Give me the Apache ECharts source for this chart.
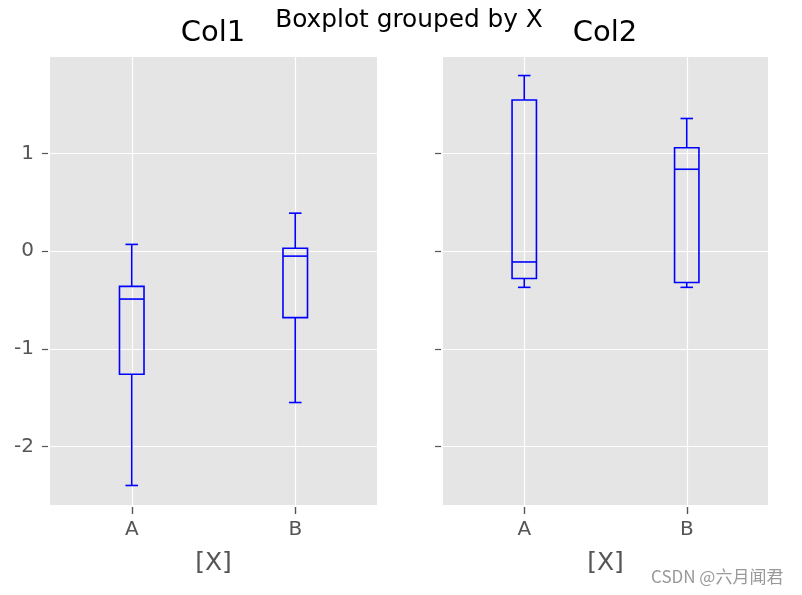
<!DOCTYPE html>
<html>
<head>
<meta charset="utf-8">
<script src="https://cdn.jsdelivr.net/npm/echarts@6/dist/echarts.min.js"></script>
<style>
html,body{margin:0;padding:0;background:#fff;}
#chart{width:802px;height:595px;}
</style>
</head>
<body>
<div id="chart"></div>
<script>
// ---- data ----
const categories = ['A', 'B'];
const panelTitles = ['Col1', 'Col2'];
// [min, Q1, median, Q3, max]
const col1A = [-2.40, -1.26, -0.49, -0.36, 0.07];
const col1B = [-1.55, -0.68, -0.05, 0.03, 0.39];
const col2A = [-0.37, -0.28, -0.11, 1.55, 1.80];
const col2B = [-0.37, -0.32, 0.84, 1.06, 1.36];
const yTicks = [-2, -1, 0, 1];
const yMin = -2.6, yMax = 1.99;
const suptitle = 'Boxplot grouped by X';
const xName = '[X]';
const watermark = 'CSDN @六月闻君';

const FONT = 'DejaVu Sans';
const BLUE = '#0000FF';

function toRows(boxes) {
  return boxes.map((b, i) => [i].concat(b));
}

function renderBox(params, api) {
  const cat = api.value(0);
  const p = (v) => api.coord([cat, v]);
  const cx = p(api.value(3))[0];
  const yLo = p(api.value(1))[1];
  const yQ1 = p(api.value(2))[1];
  const yMed = p(api.value(3))[1];
  const yQ3 = p(api.value(4))[1];
  const yHi = p(api.value(5))[1];
  const band = api.size([1, 0])[0];
  const bw = band * 0.15;
  const cw = band * 0.077;
  const st = { stroke: BLUE, lineWidth: 1.6, fill: null };
  const line = (x1, y1, x2, y2) => ({ type: 'line', shape: { x1, y1, x2, y2 }, style: st });
  return {
    type: 'group',
    children: [
      { type: 'rect', shape: { x: cx - bw / 2, y: yQ3, width: bw, height: yQ1 - yQ3 }, style: st },
      line(cx - bw / 2, yMed, cx + bw / 2, yMed),
      line(cx, yQ1, cx, yLo),
      line(cx, yQ3, cx, yHi),
      line(cx - cw / 2, yLo, cx + cw / 2, yLo),
      line(cx - cw / 2, yHi, cx + cw / 2, yHi)
    ]
  };
}

const grids = [
  { left: 50, top: 57, width: 327, height: 448 },
  { left: 443, top: 57, width: 325, height: 448 }
];

function makeX(i) {
  return {
    type: 'category', gridIndex: i, data: categories, boundaryGap: true, offset: 2, position: 'bottom',
    axisLine: { show: false, onZero: false },
    axisTick: { show: true, inside: false, interval: 0, alignWithLabel: true, length: 7,
      lineStyle: { color: '#555', width: 1.4 } },
    axisLabel: { color: '#555', fontFamily: FONT, fontSize: 20, margin: 13 },
    splitLine: { show: true, interval: 0, alignWithLabel: true, lineStyle: { color: '#fff', width: 1.2 } },
    name: xName, nameLocation: 'middle', nameGap: 44,
    nameTextStyle: { color: '#555', fontFamily: FONT, fontSize: 25 }
  };
}
function makeY(i, showLabels) {
  return {
    type: 'value', gridIndex: i, min: yMin, max: yMax, offset: 2,
    axisLine: { show: false, onZero: false },
    axisTick: { show: true, length: 6, customValues: yTicks, lineStyle: { color: '#555', width: 1.2 } },
    axisLabel: { show: showLabels, customValues: yTicks, color: '#555', fontFamily: FONT, fontSize: 20, margin: 14 },
    splitLine: { show: true, lineStyle: { color: '#fff', width: 1.2 } }
  };
}

const chart = echarts.init(document.getElementById('chart'), null, { renderer: 'canvas' });
chart.setOption({
  animation: false,
  backgroundColor: '#fff',
  title: [
    { text: suptitle, left: 409, top: 8, textAlign: 'center', padding: 0,
      textStyle: { fontFamily: FONT, fontSize: 24.8, fontWeight: 'normal', color: '#000' } },
    { text: panelTitles[0], left: 213, top: 19, textAlign: 'center', padding: 0,
      textStyle: { fontFamily: FONT, fontSize: 29, fontWeight: 'normal', color: '#000' } },
    { text: panelTitles[1], left: 605, top: 19, textAlign: 'center', padding: 0,
      textStyle: { fontFamily: FONT, fontSize: 29, fontWeight: 'normal', color: '#000' } }
  ],
  grid: grids.map(g => Object.assign({ show: true, backgroundColor: '#E5E5E5', borderWidth: 0, containLabel: false }, g)),
  xAxis: [makeX(0), makeX(1)],
  yAxis: [makeY(0, true), makeY(1, false)],
  series: [
    { type: 'custom', xAxisIndex: 0, yAxisIndex: 0, renderItem: renderBox, clip: false, z: 10,
      encode: { x: 0, y: [1, 2, 3, 4, 5] }, data: toRows([col1A, col1B]) },
    { type: 'custom', xAxisIndex: 1, yAxisIndex: 1, renderItem: renderBox, clip: false, z: 10,
      encode: { x: 0, y: [1, 2, 3, 4, 5] }, data: toRows([col2A, col2B]) }
  ],
  graphic: [
    { type: 'text', left: 651, top: 568,
      style: { text: watermark, fontFamily: 'Noto Sans CJK SC', fontSize: 17, fill: '#999' } }
  ]
});
</script>
</body>
</html>
